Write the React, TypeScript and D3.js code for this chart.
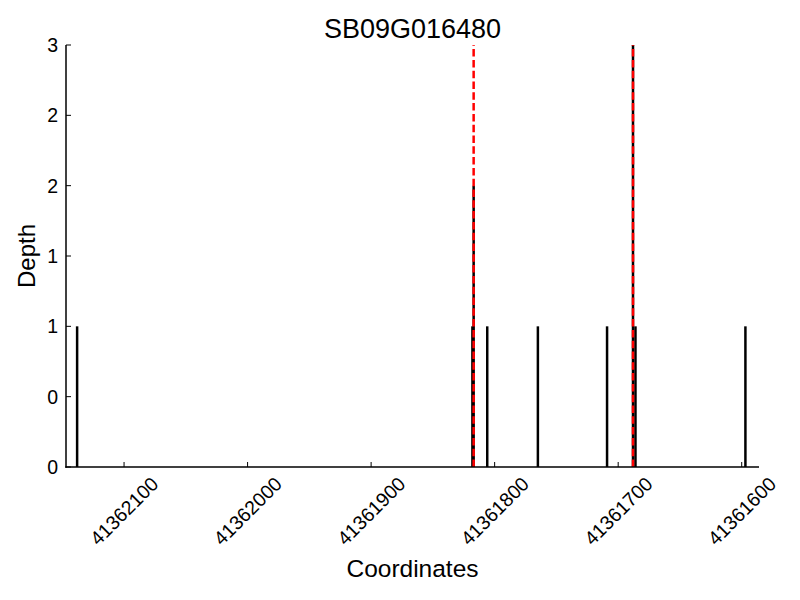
import React from "react";
import * as d3 from "d3";

const title = "SB09G016480";
const xLabel = "Coordinates";
const yLabel = "Depth";

const xDomain = [41362147, 41361586];
const xTicks = [41362100, 41362000, 41361900, 41361800, 41361700, 41361600];

const yTicks = [0, 0.5, 1, 1.5, 2, 2.5, 3];
const yTickLabels = ["0", "0", "1", "1", "2", "2", "3"];

const positions = [41362138, 41361818, 41361817, 41361806, 41361765, 41361709, 41361688, 41361686, 41361597];
const depths = [1, 1, 2, 1, 1, 1, 3, 1, 1];

const markers = [41361817, 41361688];

const W = 800;
const H = 600;
const left = 66;
const right = 759;
const top = 45;
const bottom = 467;
const FONT = "'Liberation Sans', Arial, Helvetica, sans-serif";

export default function App() {
  const x = d3.scaleLinear().domain(xDomain).range([left, right]);
  const y = d3.scaleLinear().domain([0, 3]).range([bottom, top]);
  const cx = (left + right) / 2;
  const cy = (top + bottom) / 2;

  return (
    <svg
      width={W}
      height={H}
      style={{ position: "absolute", left: 0, top: 0, display: "block", background: "#fff" }}
      fontFamily={FONT}
    >
      <rect x={0} y={0} width={W} height={H} fill="#fff" />
      {positions.map((p, i) => (
        <line
          key={"b" + i}
          x1={x(p)}
          x2={x(p)}
          y1={y(0)}
          y2={y(depths[i])}
          stroke="#000"
          strokeWidth={2.5}
        />
      ))}
      {markers.map((m, i) => (
        <line
          key={"m" + i}
          x1={x(m)}
          x2={x(m)}
          y1={bottom}
          y2={top}
          stroke="#ff0000"
          strokeWidth={2.5}
          strokeDasharray="7.5,3.3"
        />
      ))}
      <line x1={left} x2={left} y1={top} y2={bottom + 0.75} stroke="#000" strokeWidth={1.5} />
      <line x1={left - 0.75} x2={right} y1={bottom} y2={bottom} stroke="#000" strokeWidth={1.5} />
      {yTicks.map((t, i) => (
        <g key={"yt" + i}>
          <line x1={left} x2={left + 5} y1={y(t)} y2={y(t)} stroke="#000" strokeWidth={1} />
          <text
            x={left - 8}
            y={y(t)}
            textAnchor="end"
            dominantBaseline="central"
            fontSize={19.5}
            fill="#000"
          >
            {yTickLabels[i]}
          </text>
        </g>
      ))}
      {xTicks.map((t, i) => (
        <g key={"xt" + i}>
          <line x1={x(t)} x2={x(t)} y1={bottom} y2={bottom - 5} stroke="#000" strokeWidth={1} />
          <text
            transform={`translate(${x(t)},${bottom + 44}) rotate(-45)`}
            textAnchor="middle"
            dominantBaseline="central"
            fontSize={19.5}
            fill="#000"
          >
            {d3.format("d")(t)}
          </text>
        </g>
      ))}
      <text x={cx} y={38} textAnchor="middle" fontSize={27} fill="#000">
        {title}
      </text>
      <text x={cx} y={577} textAnchor="middle" fontSize={24.5} fill="#000">
        {xLabel}
      </text>
      <text
        transform={`translate(35,${cy}) rotate(-90)`}
        textAnchor="middle"
        fontSize={24}
        fill="#000"
      >
        {yLabel}
      </text>
    </svg>
  );
}
